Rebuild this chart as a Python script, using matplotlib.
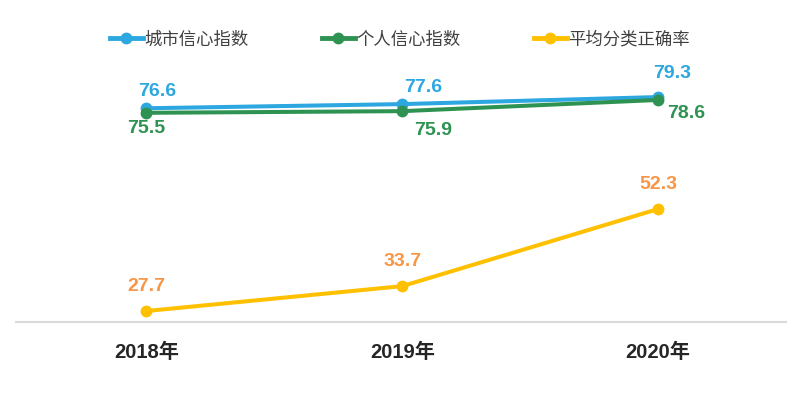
import matplotlib
matplotlib.use('Agg')
import matplotlib.pyplot as plt

plt.rcParams['font.family'] = ['Liberation Sans', 'Noto Sans CJK SC', 'DejaVu Sans']

years = ['2018年', '2019年', '2020年']
city_index = [76.6, 77.6, 79.3]
personal_index = [75.5, 75.9, 78.6]
sort_accuracy = [27.7, 33.7, 52.3]
series_names = ['城市信心指数', '个人信心指数', '平均分类正确率']

blue = '#2CA7DF'
green = '#2E9352'
yellow = '#FFC000'
orange = '#F79646'

fig = plt.figure(figsize=(8, 3.95), dpi=100)
ax = fig.add_axes([0.02, 0.1843, 0.9625, 0.6823])

x = list(range(len(years)))
ax.plot(x, city_index, color=blue, lw=2.9, marker='o', ms=7.5, label=series_names[0], zorder=3)
ax.plot(x, personal_index, color=green, lw=2.9, marker='o', ms=7.5, label=series_names[1], zorder=4)
ax.plot(x, sort_accuracy, color=yellow, lw=2.9, marker='o', ms=7.5, label=series_names[2], zorder=3)

lab = dict(fontsize=14, fontweight='bold', ha='center', va='center', textcoords='offset points')
city_off = [(8, 12), (15, 12), (10, 17)]
for i, v in enumerate(city_index):
    ax.annotate(f'{v}', (i, v), xytext=city_off[i], color=blue, **lab)
pers_off = [(0, -11), (22, -14), (20, -10)]
for i, v in enumerate(personal_index):
    ax.annotate(f'{v}', (i, v), xytext=pers_off[i], color=green, **lab)
for i, v in enumerate(sort_accuracy):
    ax.annotate(f'{v}', (i, v), xytext=(0, 18), color=orange, **lab)

ax.set_xlim(-0.51, 2.5)
ax.set_ylim(25, 90)
ax.set_yticks([])
ax.set_xticks(x)
ax.set_xticklabels(years, fontsize=14.5, fontweight='bold', color='#262626')
ax.tick_params(axis='x', length=0, pad=15)
for s in ['left', 'right', 'top']:
    ax.spines[s].set_visible(False)
ax.spines['bottom'].set_color('#D9D9D9')
ax.spines['bottom'].set_linewidth(1.5)

leg = fig.legend(loc='center', bbox_to_anchor=(0.5, 0.9), ncol=3, frameon=False,
                 prop={'family': ['Noto Sans CJK SC'], 'size': 12.5},
                 handlelength=1.9, handletextpad=0.1, columnspacing=4.2)
for t in leg.get_texts():
    t.set_color('#404040')
for h in leg.legend_handles:
    h.set_linewidth(3.5)

fig.savefig('out.png', dpi=100)
